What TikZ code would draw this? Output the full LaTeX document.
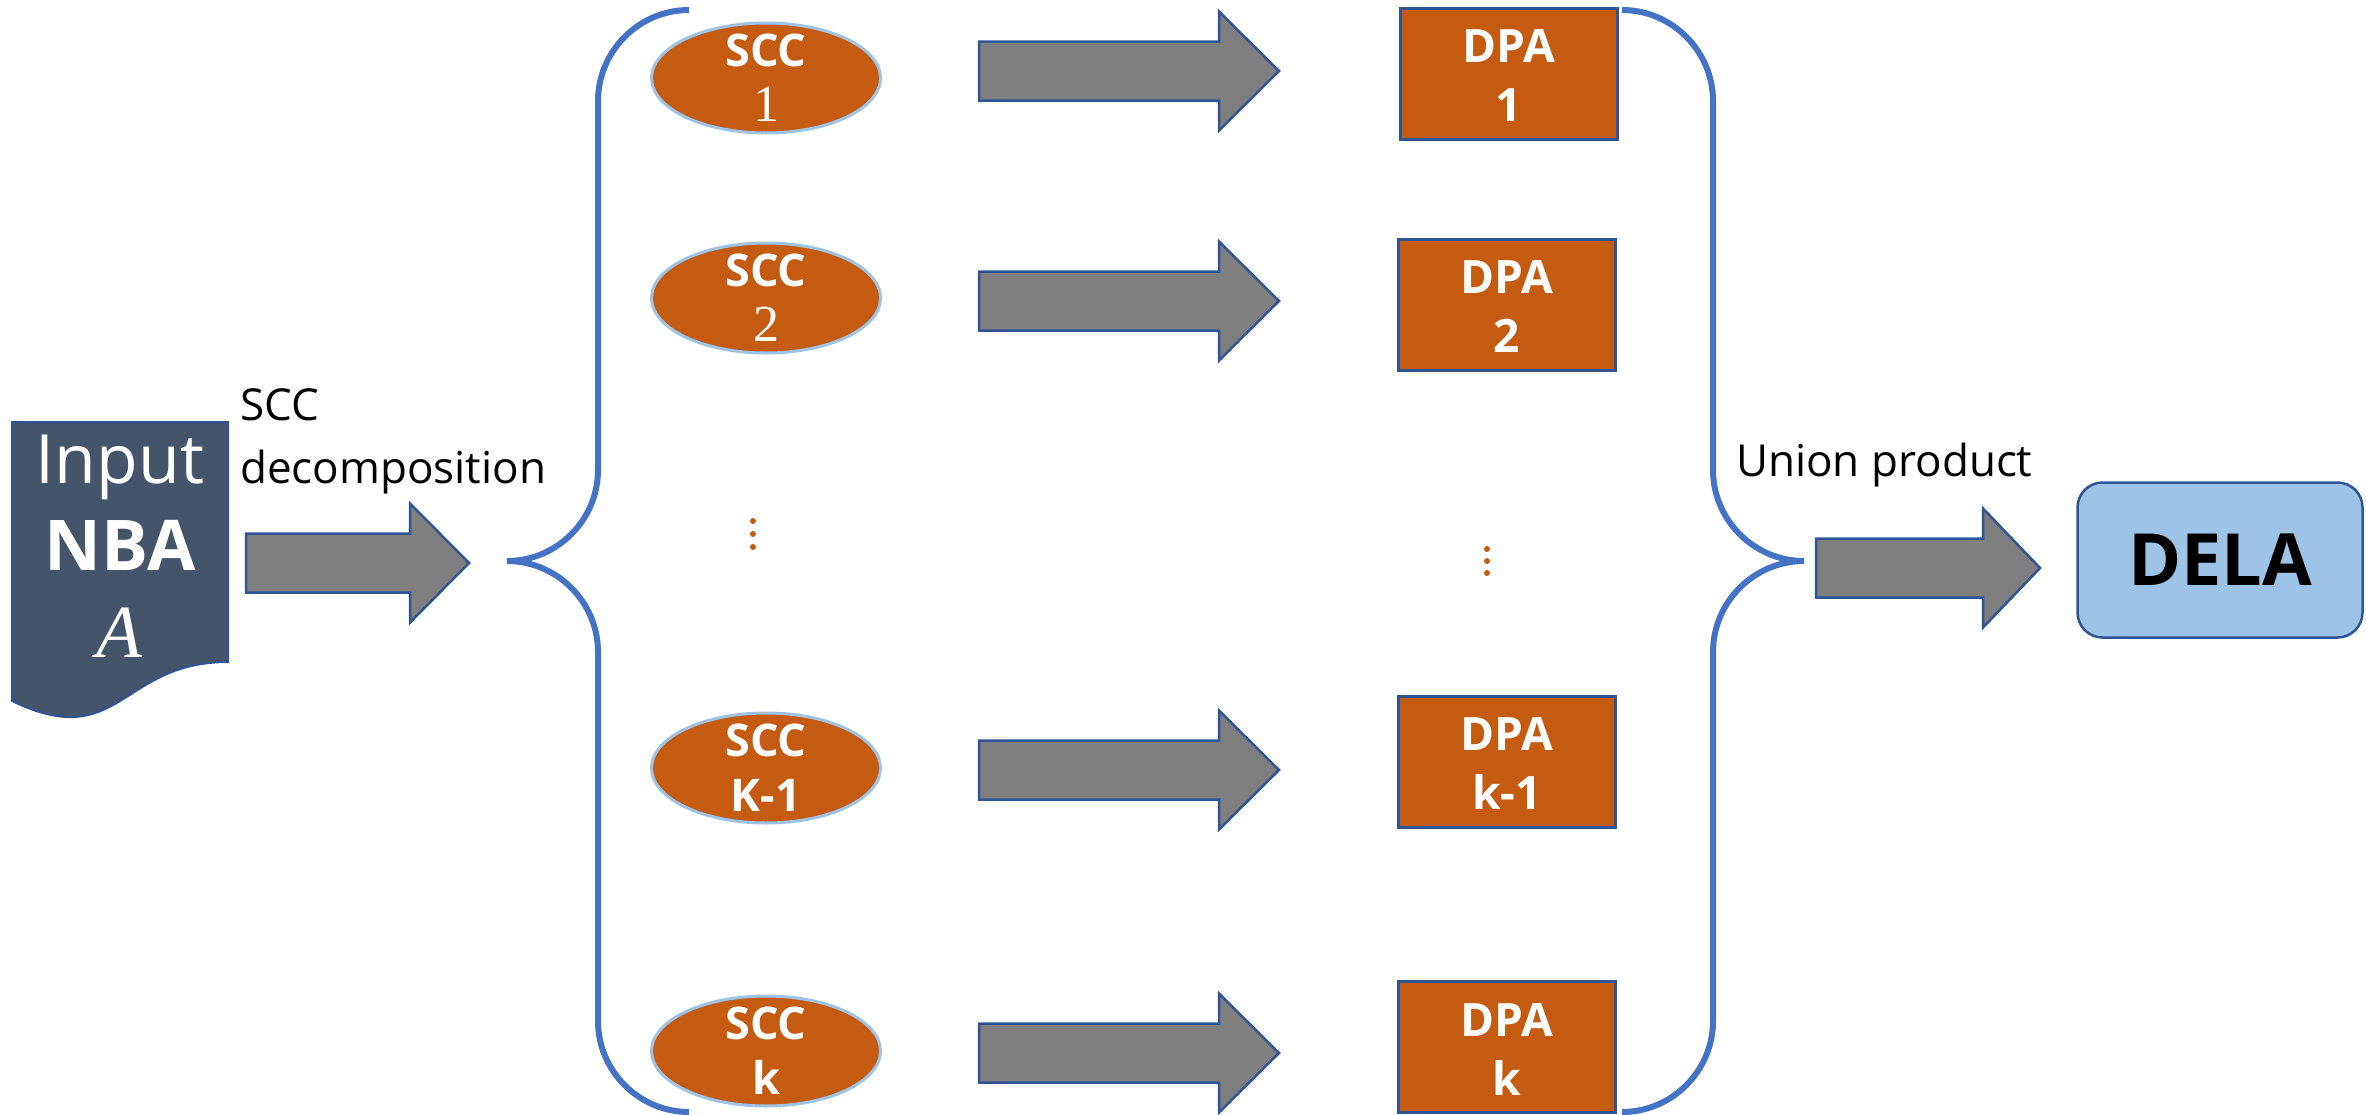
\documentclass[tikz,border=0pt]{standalone}
\usepackage{fontspec}
\setmainfont{Open Sans}
\newfontfamily\numfont{Liberation Serif}
\usetikzlibrary{shapes.geometric}
\definecolor{orng}{HTML}{C55A11}
\definecolor{edgeblue}{HTML}{2F5597}
\definecolor{lightblue}{HTML}{9DC3E6}
\definecolor{bracecol}{HTML}{4472C4}
\definecolor{docfill}{HTML}{44546A}
\definecolor{arrowgray}{HTML}{7F7F7F}
\tikzset{
  brace/.style={draw=bracecol, line width=6pt},
  blockarrow/.style={fill=arrowgray, draw=edgeblue, line width=2.5pt, line join=miter},
  docshape/.style={fill=docfill, draw=edgeblue, line width=2pt},
  sccell/.style={ellipse, fill=orng, draw=lightblue, line width=3pt, minimum width=229pt, minimum height=110pt, inner sep=0pt},
  scctxt/.style={text=white, align=center, inner sep=0pt, font=\bfseries\fontsize{45}{55}\selectfont},
  dpabox/.style={rectangle, fill=orng, draw=edgeblue, line width=3pt, minimum width=217pt, minimum height=131pt, inner sep=0pt},
  dpatxt/.style={text=white, align=center, inner sep=0pt, font=\bfseries\fontsize{46}{59}\selectfont},
  whitetxt/.style={text=white, inner sep=0pt},
  lbl/.style={text=black, inner sep=0pt, font=\fontsize{44}{50}\selectfont},
  delabox/.style={rectangle, rounded corners=25pt, fill=lightblue, draw=edgeblue, line width=2.5pt, minimum width=285pt, minimum height=155pt, font=\bfseries\fontsize{72}{80}\selectfont},
  dotstyle/.style={fill=orng}
}
\newcommand\blockarr[4]{\filldraw[blockarrow] (#1,#4-29.5) -- (#3,#4-29.5) -- (#3,#4-59.5) -- (#2,#4) -- (#3,#4+59.5) -- (#3,#4+29.5) -- (#1,#4+29.5) -- cycle;}
\newcommand\sccnum[1]{{\numfont\mdseries\fontsize{52}{55}\selectfont #1}}
\begin{document}
\begin{tikzpicture}[x=1pt,y=-1pt]
\useasboundingbox (0,0) rectangle (2367,1114);

% input document
\filldraw[docshape] (12,422) -- (228,422) -- (228,662) .. controls (120,662) and (120,753) .. (12,701) -- cycle;
\node[whitetxt, anchor=base, font=\fontsize{68}{80}\selectfont] (inp) at (120,483) {Input};
\node[whitetxt, anchor=base, font=\bfseries\fontsize{70}{80}\selectfont] (nba) at (120,570) {NBA};
\node[whitetxt, anchor=base, font=\numfont\itshape\fontsize{75}{80}\selectfont] (aa) at (119,657) {A};

% labels
\node[lbl, anchor=base west] (sccl) at (240,420) {SCC};
\node[lbl, anchor=base west] (decl) at (240,483) {decomposition};
\node[lbl, anchor=base west] (unl) at (1736,476) {Union product};

% arrows
\blockarr{246}{469}{410}{563}
\blockarr{979}{1279}{1219}{71}
\blockarr{979}{1279}{1219}{301}
\blockarr{979}{1279}{1219}{770}
\blockarr{979}{1279}{1219}{1053}
\blockarr{1816}{2040}{1983}{568}

% braces
\draw[brace] (689,10) .. controls (639,10) and (598,51) .. (598,101) -- (598,470)
  .. controls (598,520) and (557,561) .. (507,561)
  .. controls (557,561) and (598,602) .. (598,652) -- (598,1021)
  .. controls (598,1071) and (639,1112) .. (689,1112);
\draw[brace] (1622,10) .. controls (1672,10) and (1713,51) .. (1713,101) -- (1713,470)
  .. controls (1713,520) and (1754,561) .. (1804,561)
  .. controls (1754,561) and (1713,602) .. (1713,652) -- (1713,1021)
  .. controls (1713,1071) and (1672,1112) .. (1622,1112);

% SCC ellipses
\node[sccell] (s1) at (766,78) {};
\node[scctxt] (s1t) at (s1) {SCC\\\sccnum{1}};
\node[sccell] (s2) at (766,298) {};
\node[scctxt] (s2t) at (s2) {SCC\\\sccnum{2}};
\node[sccell] (s3) at (766,768) {};
\node[scctxt] (s3t) at (s3) {SCC\\K-1};
\node[sccell] (s4) at (766,1051) {};
\node[scctxt] (s4t) at (s4) {SCC\\k};

% DPA boxes
\node[dpabox] (d1) at (1509,74) {};
\node[dpatxt] (d1t) at (1509,76) {DPA\\1};
\node[dpabox] (d2) at (1507,305) {};
\node[dpatxt] (d2t) at (1507,307) {DPA\\2};
\node[dpabox] (d3) at (1507,762) {};
\node[dpatxt] (d3t) at (1507,764) {DPA\\k-1};
\node[dpabox] (d4) at (1507,1047) {};
\node[dpatxt] (d4t) at (1507,1049) {DPA\\k};

% dots
\fill[dotstyle] (753,521) circle (3pt);
\fill[dotstyle] (753,534) circle (3pt);
\fill[dotstyle] (753,547) circle (3pt);
\fill[dotstyle] (1487,549) circle (3pt);
\fill[dotstyle] (1487,561) circle (3pt);
\fill[dotstyle] (1487,573) circle (3pt);

% DELA
\node[delabox] (dela) at (2220,560) {DELA};
\end{tikzpicture}
\end{document}
